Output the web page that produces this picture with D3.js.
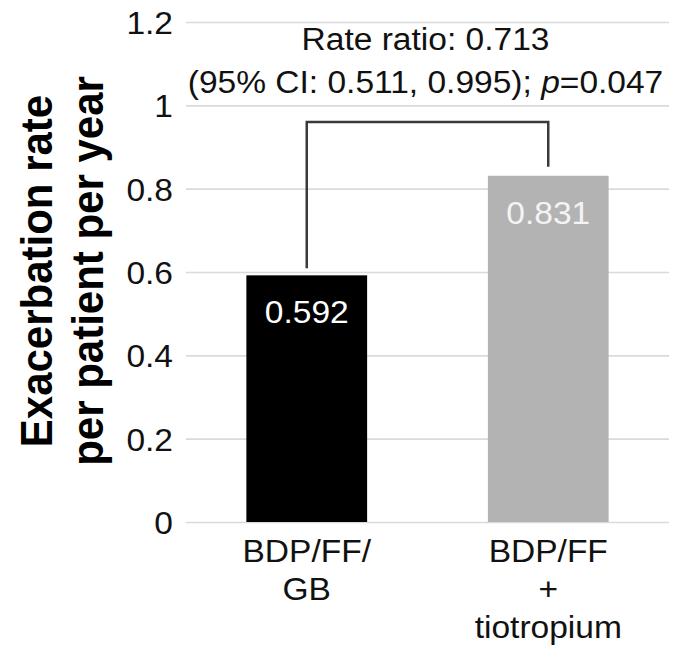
<!DOCTYPE html>
<html>
<head>
<meta charset="utf-8">
<script src="https://cdn.jsdelivr.net/npm/d3@7/dist/d3.min.js"></script>
<style>
  html, body { margin: 0; padding: 0; background: #fff; }
  svg { display: block; font-family: "Liberation Sans", Arial, Helvetica, sans-serif; }
</style>
</head>
<body>
<svg id="chart" width="675" height="649"></svg>
<script>
// Treatment groups (multi-line labels) and annualised exacerbation rates
const categories = ["BDP/FF/GB", "BDP/FF + tiotropium"];
const categoryLines = [["BDP/FF/", "GB"], ["BDP/FF", "+", "tiotropium"]];
const rates = [0.592, 0.831];
const barColors = ["#000000", "#b3b3b3"];
const valueColors = ["#ffffff", "#f4f4f4"];

// Y axis ticks
const yTicks = [0, 0.2, 0.4, 0.6, 0.8, 1, 1.2];
const yTickLabels = ["0", "0.2", "0.4", "0.6", "0.8", "1", "1.2"];

// Comparison annotation
const ratioLine = "Rate ratio: 0.713";
const ciText = "(95% CI: 0.511, 0.995); ";
const pLabel = "p";
const pValue = "=0.047";
const bracketLevel = 0.96;

const yTitle = ["Exacerbation rate", "per patient per year"];

const W = 675, H = 649;
const plot = { left: 186, right: 669, top: 22, bottom: 522 };
const sx = 1.065; // slight horizontal widening of the lettering

const svg = d3.select("#chart");

const y = d3.scaleLinear().domain([0, 1.2]).range([plot.bottom, plot.top]);
const x = d3.scaleBand().domain(categories).range([plot.left, plot.right])
  .paddingInner(0.5).paddingOuter(0.25);

// Gridlines + tick labels
const yAxis = d3.axisLeft(y)
  .tickValues(yTicks)
  .tickSize(-(plot.right - plot.left))
  .tickPadding(13)
  .tickFormat((d, i) => yTickLabels[yTicks.indexOf(d)]);

const gy = svg.append("g")
  .attr("transform", `translate(${plot.left},0)`)
  .call(yAxis);
gy.select(".domain").remove();
gy.selectAll(".tick line").attr("stroke", "#dadada").attr("stroke-width", 1.6);
gy.selectAll(".tick text")
  .attr("x", null).attr("dy", null)
  .attr("transform", `translate(-13,11.5) scale(${sx},1)`)
  .attr("fill", "#111")
  .style("font-size", "31.5px");

// Bars
svg.append("g").selectAll("rect")
  .data(rates)
  .join("rect")
  .attr("x", (d, i) => x(categories[i]))
  .attr("width", x.bandwidth())
  .attr("y", d => y(d))
  .attr("height", d => y(0) - y(d))
  .attr("fill", (d, i) => barColors[i]);

// Value labels inside bars
svg.append("g").selectAll("text")
  .data(rates)
  .join("text")
  .attr("transform", (d, i) =>
    `translate(${x(categories[i]) + x.bandwidth() / 2},${y(d) + 48}) scale(${sx},1)`)
  .attr("text-anchor", "middle")
  .attr("fill", (d, i) => valueColors[i])
  .style("font-size", "31.5px")
  .text(d => d.toFixed(3));

// Comparison bracket
const cx0 = x(categories[0]) + x.bandwidth() / 2;
const cx1 = x(categories[1]) + x.bandwidth() / 2;
const bracketPath = d3.path();
bracketPath.moveTo(cx0, y(rates[0]) - 7);
bracketPath.lineTo(cx0, y(bracketLevel));
bracketPath.lineTo(cx1, y(bracketLevel));
bracketPath.lineTo(cx1, y(rates[1]) - 9);
svg.append("path")
  .attr("d", bracketPath.toString())
  .attr("fill", "none")
  .attr("stroke", "#3a3a3a")
  .attr("stroke-width", 2.5);

// Rate ratio annotation
const annX = (plot.left + plot.right) / 2 - 2;
svg.append("text")
  .attr("transform", `translate(${annX},50) scale(${sx},1)`)
  .attr("text-anchor", "middle")
  .attr("fill", "#111")
  .style("font-size", "31.5px")
  .text(ratioLine);
const ci = svg.append("text")
  .attr("transform", `translate(${annX},93) scale(${sx},1)`)
  .attr("text-anchor", "middle")
  .attr("fill", "#111")
  .style("font-size", "31.5px");
ci.append("tspan").text(ciText);
ci.append("tspan").style("font-style", "italic").text(pLabel);
ci.append("tspan").text(pValue);

// Category axis
const xAxis = d3.axisBottom(x).tickSize(0).tickPadding(0);
const gx = svg.append("g")
  .attr("transform", `translate(0,${plot.bottom})`)
  .call(xAxis);
gx.select(".domain").remove();
gx.selectAll(".tick text").each(function (d, i) {
  const t = d3.select(this);
  t.text(null).attr("y", null).attr("dy", null)
    .attr("transform", `translate(0,40) scale(${sx},1)`)
    .attr("fill", "#111")
    .style("font-size", "31.5px");
  categoryLines[i].forEach((line, j) => {
    t.append("tspan").attr("x", 0).attr("y", j * 38).text(line);
  });
});

// Y axis title (two bold lines, rotated)
const ty = svg.append("text")
  .attr("transform", `translate(52,${(plot.top + plot.bottom) / 2 - 1}) scale(${sx},1) rotate(-90)`)
  .attr("text-anchor", "middle")
  .attr("fill", "#000")
  .style("font-size", "42px")
  .style("font-weight", "bold");
yTitle.forEach((line, j) => {
  ty.append("tspan").attr("x", 0).attr("y", j * 48).text(line);
});
</script>
</body>
</html>
